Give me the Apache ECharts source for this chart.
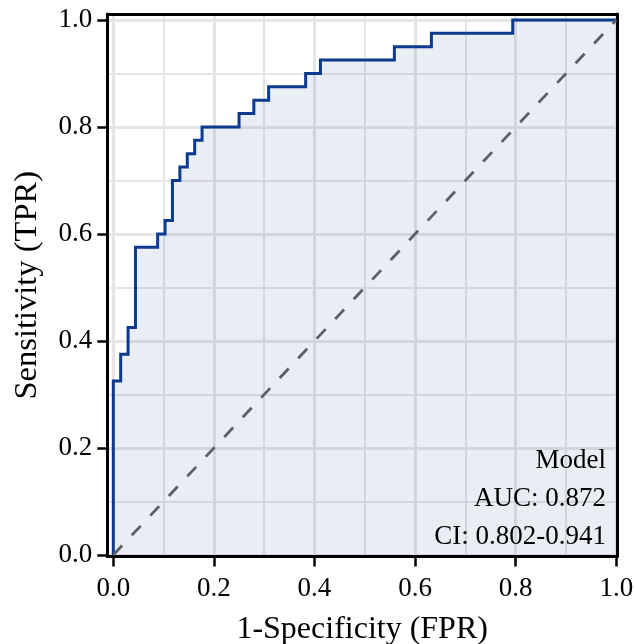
<!DOCTYPE html>
<html><head><meta charset="utf-8">
<script src="https://cdn.jsdelivr.net/npm/echarts@6/dist/echarts.min.js"></script>
<style>html,body{margin:0;padding:0;background:#fff}#c{width:635px;height:644px}</style>
</head><body><div id="c"></div>
<script>
// ROC curve points (False positive rate, True positive rate)
const fpr = [0, 0, 0.0147, 0.0147, 0.0294, 0.0294, 0.0441, 0.0441, 0.0882, 0.0882, 0.1029, 0.1029, 0.1176, 0.1176, 0.1324, 0.1324, 0.1471, 0.1471, 0.1618, 0.1618, 0.1765, 0.1765, 0.25, 0.25, 0.2794, 0.2794, 0.3088, 0.3088, 0.3824, 0.3824, 0.4118, 0.4118, 0.5588, 0.5588, 0.6324, 0.6324, 0.7941, 0.7941, 1.0];
const tpr = [0, 0.325, 0.325, 0.375, 0.375, 0.425, 0.425, 0.575, 0.575, 0.6, 0.6, 0.625, 0.625, 0.7, 0.7, 0.725, 0.725, 0.75, 0.75, 0.775, 0.775, 0.8, 0.8, 0.825, 0.825, 0.85, 0.85, 0.875, 0.875, 0.9, 0.9, 0.925, 0.925, 0.95, 0.95, 0.975, 0.975, 1.0, 1.0];
// Chance diagonal
const chanceX = [0, 1];
const chanceY = [0, 1];
// Ticks
const tickValues = [0, 0.2, 0.4, 0.6, 0.8, 1.0];
const tickLabels = ['0.0', '0.2', '0.4', '0.6', '0.8', '1.0'];
const minorValues = [0, 0.1, 0.2, 0.3, 0.4, 0.5, 0.6, 0.7, 0.8, 0.9, 1.0];
// Annotation
const legendLines = ['Model', 'AUC: 0.872', 'CI: 0.802-0.941'];

const FONT = "'Liberation Serif','Times New Roman',serif";
const GRID_COLOR = '#e5e5e5';
const fmt = v => { const i = tickValues.findIndex(t => Math.abs(t - v) < 1e-9); return i >= 0 ? tickLabels[i] : ''; };

function mainAxis(extra) {
  return Object.assign({
    type: 'value',
    axisLine: { show: true, onZero: false, lineStyle: { color: '#000', width: 3 } },
    axisTick: { show: true, customValues: tickValues, length: 10, lineStyle: { color: '#000', width: 2.5 } },
    splitLine: { show: true, lineStyle: { color: GRID_COLOR, width: 3 } },
    nameLocation: 'middle',
    nameTextStyle: { fontFamily: FONT, fontSize: 32, color: '#000' }
  }, extra);
}
function minorAxis(extra) {
  return Object.assign({
    type: 'value',
    axisLine: { show: true, onZero: false, lineStyle: { color: '#000', width: 3 } },
    axisTick: { show: false, customValues: minorValues },
    axisLabel: { show: false },
    splitLine: { show: true, lineStyle: { color: GRID_COLOR, width: 2 } }
  }, extra);
}

const XMIN = -0.0119, XMAX = 1.0014, YMIN = -0.0028, YMAX = 1.0112;

const option = {
  animation: false,
  backgroundColor: '#fff',
  grid: { left: 107.3, right: 18, top: 14, bottom: 87.5, containLabel: false, outerBoundsMode: 'none' },
  xAxis: [
    mainAxis({ position: 'bottom', min: XMIN, max: XMAX, name: '1-Specificity (FPR)', nameGap: 57,
      axisLabel: { customValues: tickValues, formatter: fmt, fontFamily: FONT, fontSize: 27, color: '#000', margin: 19 } }),
    minorAxis({ position: 'top', min: XMIN, max: XMAX })
  ],
  yAxis: [
    mainAxis({ position: 'left', min: YMIN, max: YMAX, name: 'Sensitivity (TPR)', nameGap: 63,
      nameTextStyle: { fontFamily: FONT, fontSize: 32.5, color: '#000' },
      axisLabel: { customValues: tickValues, formatter: fmt, fontFamily: FONT, fontSize: 27, color: '#000', margin: 15 } }),
    minorAxis({ position: 'right', min: YMIN, max: YMAX })
  ],
  series: [
    {
      type: 'line', xAxisIndex: 0, yAxisIndex: 0,
      data: fpr.map((x, i) => [x, tpr[i]]),
      symbol: 'none', smooth: false,
      lineStyle: { color: '#0b3a8e', width: 3, join: 'miter' },
      areaStyle: { color: 'rgba(30,70,140,0.14)' },
      z: 3
    },
    {
      type: 'line', xAxisIndex: 0, yAxisIndex: 0,
      data: chanceX.map((x, i) => [x, chanceY[i]]),
      symbol: 'none',
      lineStyle: { color: '#5c606b', width: 2.8, type: [13, 14] },
      z: 4
    }
  ],
  graphic: legendLines.map((t, i) => ({
    type: 'text', x: 606, y: 461 + i * 38, z: 100,
    style: { text: t, fontFamily: FONT, fontSize: 27, fill: '#000', align: 'right', verticalAlign: 'middle' }
  }))
};

const chart = echarts.init(document.getElementById('c'), null, { renderer: 'canvas' });
chart.setOption(option);
</script>
</body></html>
